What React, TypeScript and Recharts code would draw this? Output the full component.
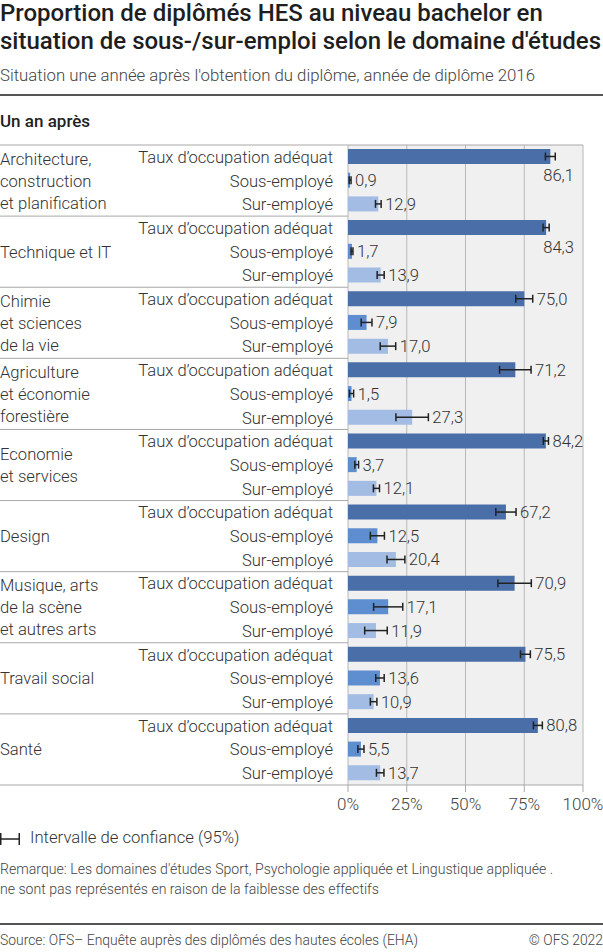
import React from "react";
import {
  BarChart,
  Bar,
  XAxis,
  YAxis,
  CartesianGrid,
  ErrorBar,
  LabelList,
  Cell
} from "recharts";

// domaines d'études (lignes du libellé)
const domains = [
  ["Architecture,", "construction", "et planification"],
  ["Technique et IT"],
  ["Chimie", "et sciences", "de la vie"],
  ["Agriculture", "et économie", "forestière"],
  ["Economie", "et services"],
  ["Design"],
  ["Musique, arts", "de la scène", "et autres arts"],
  ["Travail social"],
  ["Santé"]
];

const categories = ["Taux d’occupation adéquat", "Sous-employé", "Sur-employé"];

const adequat = [86.1, 84.3, 75.0, 71.2, 84.2, 67.2, 70.9, 75.5, 80.8];
const sousEmploye = [0.9, 1.7, 7.9, 1.5, 3.7, 12.5, 17.1, 13.6, 5.5];
const surEmploye = [12.9, 13.9, 17.0, 27.3, 12.1, 20.4, 11.9, 10.9, 13.7];

// demi-largeur de l'intervalle de confiance (95%)
const errAdequat = [2.1, 1.3, 3.6, 6.7, 1.1, 4.3, 7.1, 2.1, 1.9];
const errSous = [0.4, 0.4, 2.3, 0.9, 0.8, 3.0, 6.2, 1.8, 1.3];
const errSur = [1.2, 1.5, 3.3, 6.9, 1.3, 3.8, 4.8, 1.4, 1.6];

const xTicks = [0, 25, 50, 75, 100];

const colors = ["#4a6ea7", "#5f8ed0", "#a2bce4"];

const rows = domains.flatMap((d, i) => [
  { id: `${i}-0`, group: i, cat: 0, value: adequat[i], err: errAdequat[i] },
  { id: `${i}-1`, group: i, cat: 1, value: sousEmploye[i], err: errSous[i] },
  { id: `${i}-2`, group: i, cat: 2, value: surEmploye[i], err: errSur[i] }
]);

const W = 603;
const H = 952;
const TOP = 145;
const BOTTOM = 785;
const LEFT = 348;
const RIGHT = 583;
const X_AXIS_H = 30;
const ROW_H = (BOTTOM - TOP) / rows.length;
const PX = (RIGHT - LEFT) / 100;

const FONT = "Roboto, 'Noto Sans', sans-serif";
const TEXT = "#333";
const FS = 16.6;

const fmt = (v: number) => v.toFixed(1).replace(".", ",");

function RowTick(props: any) {
  const { y, payload } = props;
  const row = rows.find((r) => r.id === payload.value);
  if (!row) return null;
  const i = rows.indexOf(row);
  const lines = domains[row.group];
  return (
    <g>
      <text
        x={333}
        y={y}
        dy="0.36em"
        textAnchor="end"
        fontSize={FS}
        fontWeight={300}
        fill={TEXT}
        fontFamily={FONT}
      >
        {categories[row.cat]}
      </text>
      {row.cat === 0 && (
        <line
          x1={0}
          x2={i === 0 ? RIGHT : LEFT}
          y1={y - ROW_H / 2}
          y2={y - ROW_H / 2}
          stroke="#a8a8a8"
          strokeWidth={1}
        />
      )}
      {row.cat === 1 &&
        lines.map((l, k) => (
          <text
            key={k}
            x={0}
            y={y + (k - (lines.length - 1) / 2) * 22}
            dy="0.36em"
            fontSize={FS}
            fontWeight={300}
            fill={TEXT}
            fontFamily={FONT}
          >
            {l}
          </text>
        ))}
      {i === rows.length - 1 && (
        <line
          x1={0}
          x2={RIGHT}
          y1={y + ROW_H / 2}
          y2={y + ROW_H / 2}
          stroke="#a8a8a8"
          strokeWidth={1}
        />
      )}
    </g>
  );
}

function ValueLabel(props: any) {
  const vb = props.viewBox ?? props;
  const row = rows.find((r) => r.id === props.value);
  if (!row || vb == null) return null;
  const x0 = vb.x;
  const yc = vb.y + vb.height / 2;
  const end = x0 + (row.value + row.err) * PX;
  const below = row.value + row.err > 85.5;
  return (
    <text
      x={below ? 574 : end + 4}
      y={below ? yc + 19 : yc}
      dy="0.36em"
      textAnchor={below ? "end" : "start"}
      fontSize={FS}
      fontWeight={300}
      fill={TEXT}
      fontFamily={FONT}
    >
      {fmt(row.value)}
    </text>
  );
}

export default function App() {
  return (
    <div
      style={{
        position: "absolute",
        left: 0,
        top: 0,
        width: W,
        height: H,
        fontFamily: FONT,
        color: TEXT,
        background: "#fff"
      }}
    >
      <BarChart
        width={W}
        height={H}
        data={rows}
        layout="vertical"
        margin={{ top: TOP, right: W - RIGHT, left: 0, bottom: H - BOTTOM - X_AXIS_H }}
      >
        <CartesianGrid
          horizontal={false}
          fill="#f0f0f0"
          fillOpacity={1}
          stroke="#b8b8b8"
        />
        <XAxis
          type="number"
          domain={[0, 100]}
          ticks={xTicks}
          height={X_AXIS_H}
          tickFormatter={(v) => `${v}%`}
          axisLine={false}
          tickSize={7}
          tickMargin={6}
          tickLine={{ stroke: "#a8a8a8" }}
          tick={{ fontSize: 17, fill: "#444", fontWeight: 300, fontFamily: FONT }}
          interval={0}
        />
        <YAxis
          type="category"
          dataKey="id"
          width={LEFT}
          axisLine={false}
          tickLine={false}
          tick={<RowTick />}
          interval={0}
        />
        <Bar dataKey="value" barSize={15} isAnimationActive={false}>
          {rows.map((r) => (
            <Cell key={r.id} fill={colors[r.cat]} />
          ))}
          <ErrorBar
            dataKey="err"
            direction="x"
            width={4}
            stroke="#222"
            strokeWidth={1.5}
          />
          <LabelList dataKey="id" content={<ValueLabel />} />
        </Bar>
      </BarChart>

      <div
        style={{
          position: "absolute",
          left: 0,
          top: -1,
          width: W,
          fontSize: 24,
          lineHeight: "28px",
          fontWeight: 500,
          color: "#1e1e1e",
          whiteSpace: "nowrap"
        }}
      >
        Proportion de diplômés HES au niveau bachelor en
        <br />
        situation de sous-/sur-emploi selon le domaine d'études
      </div>
      <div
        style={{
          position: "absolute",
          left: 0,
          top: 64,
          fontSize: 16.8,
          lineHeight: "22px",
          fontWeight: 300,
          color: "#444",
          whiteSpace: "nowrap"
        }}
      >
        Situation une année après l'obtention du diplôme, année de diplôme 2016
      </div>
      <div
        style={{
          position: "absolute",
          left: 0,
          top: 94,
          width: W,
          height: 2,
          background: "#555"
        }}
      />
      <div
        style={{
          position: "absolute",
          left: 0,
          top: 110,
          fontSize: 17,
          lineHeight: "22px",
          fontWeight: 500,
          color: "#222"
        }}
      >
        Un an après
      </div>

      <svg
        width={24}
        height={14}
        style={{ position: "absolute", left: 0, top: 832 }}
      >
        <line x1={0} x2={20} y1={7} y2={7} stroke="#222" strokeWidth={1.5} />
        <line x1={0.75} x2={0.75} y1={1} y2={13} stroke="#222" strokeWidth={1.5} />
        <line x1={19.25} x2={19.25} y1={1} y2={13} stroke="#222" strokeWidth={1.5} />
      </svg>
      <div
        style={{
          position: "absolute",
          left: 30,
          top: 827,
          fontSize: 16.7,
          lineHeight: "22px",
          fontWeight: 300,
          color: TEXT,
          whiteSpace: "nowrap"
        }}
      >
        Intervalle de confiance (95%)
      </div>
      <div
        style={{
          position: "absolute",
          left: 0,
          top: 860,
          fontSize: 14.1,
          lineHeight: "19.5px",
          fontWeight: 300,
          color: "#444",
          whiteSpace: "nowrap"
        }}
      >
        Remarque: Les domaines d'études Sport, Psychologie appliquée et Lingustique appliquée .
        <br />
        ne sont pas représentés en raison de la faiblesse des effectifs
      </div>
      <div
        style={{
          position: "absolute",
          left: 0,
          top: 923,
          width: W,
          height: 1.5,
          background: "#555"
        }}
      />
      <div
        style={{
          position: "absolute",
          left: 0,
          top: 931,
          width: W,
          fontSize: 13.9,
          lineHeight: "19px",
          fontWeight: 300,
          color: "#444",
          display: "flex",
          justifyContent: "space-between",
          whiteSpace: "nowrap"
        }}
      >
        <span>Source: OFS– Enquête auprès des diplômés des hautes écoles (EHA)</span>
        <span>© OFS 2022</span>
      </div>
    </div>
  );
}
